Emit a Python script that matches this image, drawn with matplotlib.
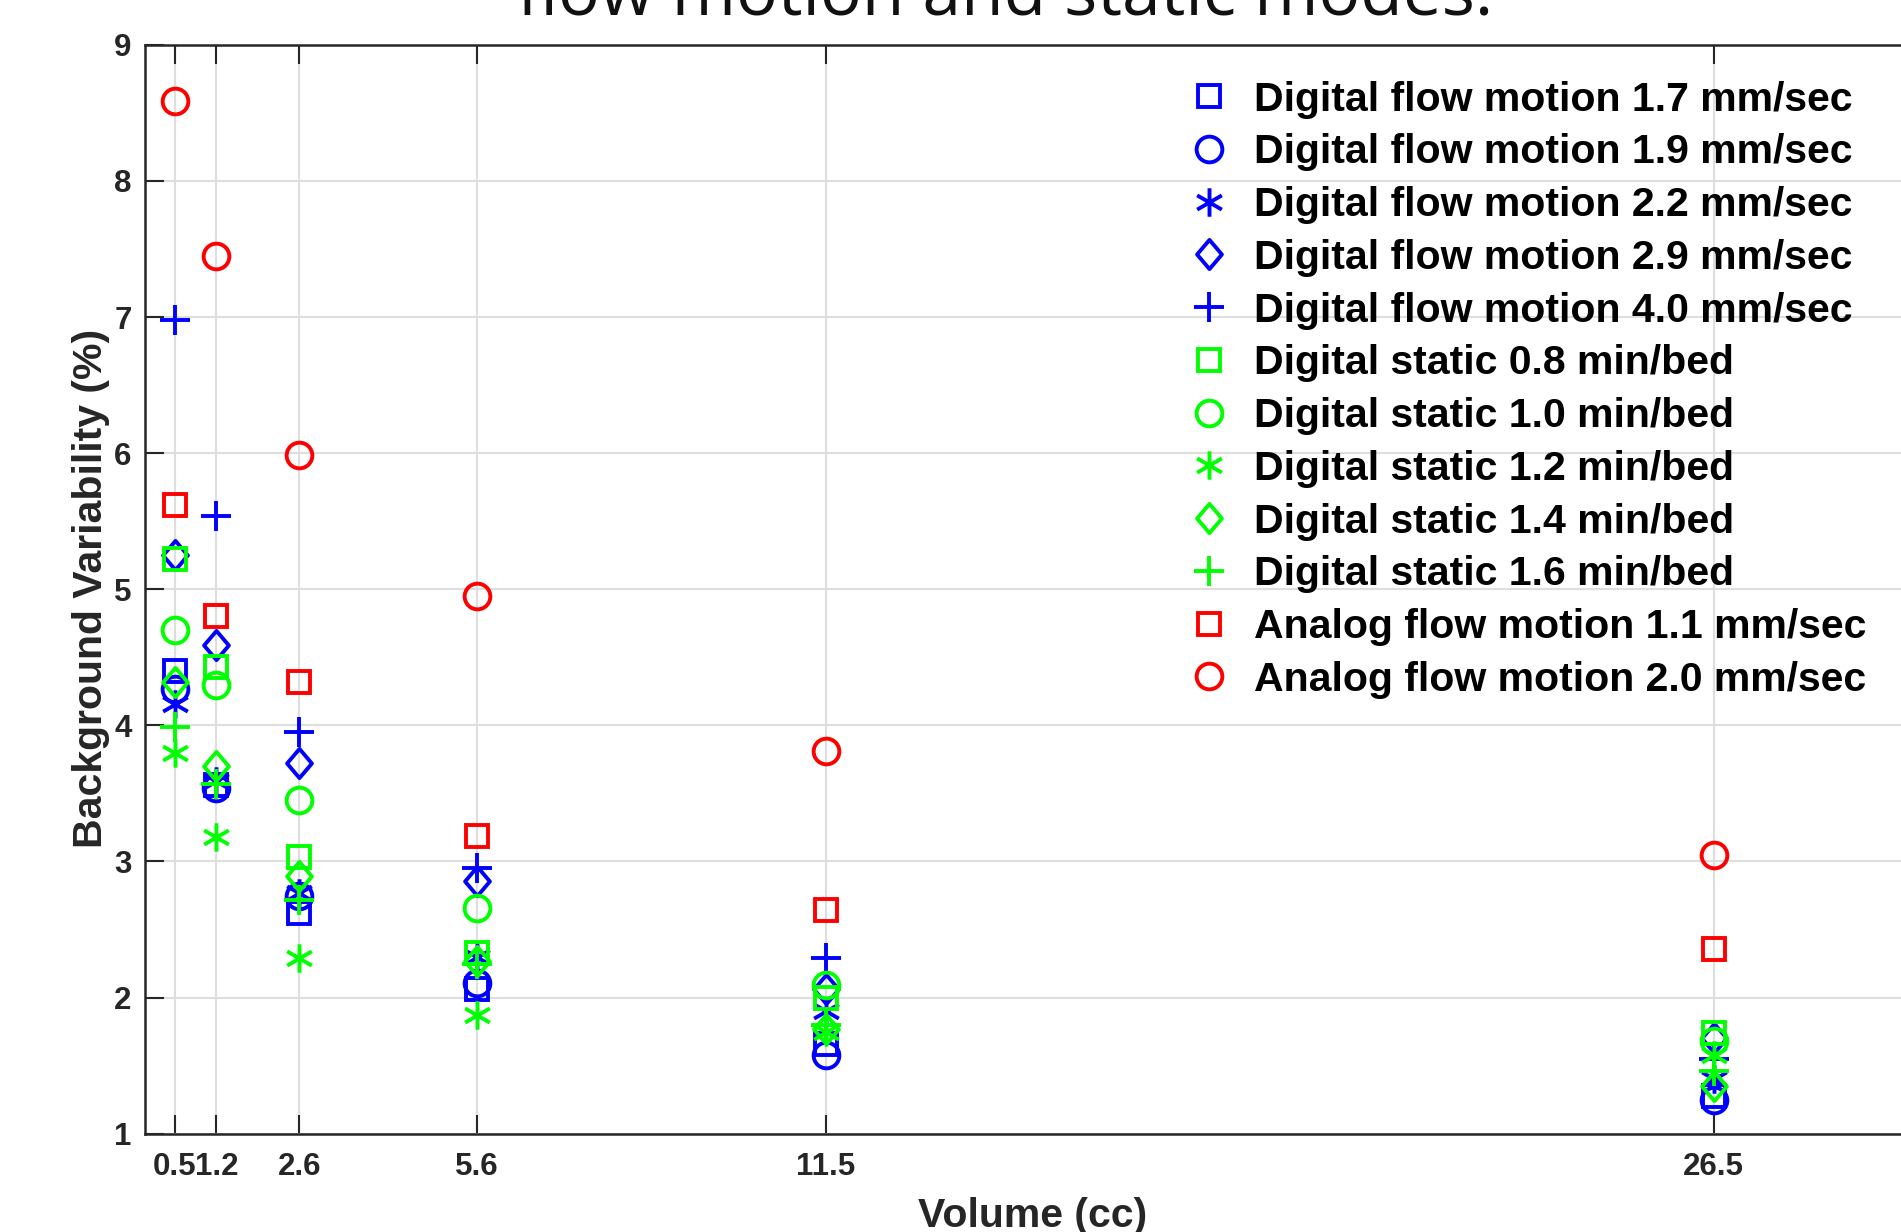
import numpy as np
import matplotlib
matplotlib.use("Agg")
import matplotlib.pyplot as plt
from matplotlib.path import Path

# volumes (cc)
volumes = [0.5, 1.2, 2.6, 5.6, 11.5, 26.5]
tick_labels = ["0.5", "1.2", "2.6", "5.6", "11.5", "26.5"]

# background variability (%) per acquisition
dfm_17 = [4.40, 3.56, 2.62, 2.06, 1.66, 1.28]
dfm_19 = [4.27, 3.54, 2.75, 2.11, 1.58, 1.25]
dfm_22 = [4.16, 3.59, 2.77, 2.30, 1.90, 1.40]
dfm_29 = [5.25, 4.59, 3.72, 2.86, 2.06, 1.70]
dfm_40 = [6.98, 5.54, 3.95, 2.95, 2.29, 1.55]
ds_08 = [5.22, 4.43, 3.03, 2.33, 2.00, 1.74]
ds_10 = [4.70, 4.30, 3.45, 2.66, 2.09, 1.68]
ds_12 = [3.80, 3.18, 2.29, 1.87, 1.75, 1.58]
ds_14 = [4.32, 3.70, 2.89, 2.27, 1.77, 1.35]
ds_16 = [3.99, 3.57, 2.72, 2.25, 1.80, 1.46]
afm_11 = [5.62, 4.80, 4.32, 3.19, 2.64, 2.36]
afm_20 = [8.59, 7.45, 5.99, 4.95, 3.81, 3.05]

labels = [
    "Digital flow motion 1.7 mm/sec",
    "Digital flow motion 1.9 mm/sec",
    "Digital flow motion 2.2 mm/sec",
    "Digital flow motion 2.9 mm/sec",
    "Digital flow motion 4.0 mm/sec",
    "Digital static 0.8 min/bed",
    "Digital static 1.0 min/bed",
    "Digital static 1.2 min/bed",
    "Digital static 1.4 min/bed",
    "Digital static 1.6 min/bed",
    "Analog flow motion 1.1 mm/sec",
    "Analog flow motion 2.0 mm/sec",
]
series = [dfm_17, dfm_19, dfm_22, dfm_29, dfm_40,
          ds_08, ds_10, ds_12, ds_14, ds_16, afm_11, afm_20]

# matlab-like marker shapes
c30, s30 = np.cos(np.pi / 6), np.sin(np.pi / 6)
asterisk = Path([(0, 1), (0, -1), (c30, s30), (-c30, -s30), (c30, -s30), (-c30, s30)],
                [Path.MOVETO, Path.LINETO, Path.MOVETO, Path.LINETO, Path.MOVETO, Path.LINETO])
diamond = Path([(0, 1), (0.85, 0), (0, -1), (-0.85, 0), (0, 1)],
               [Path.MOVETO, Path.LINETO, Path.LINETO, Path.LINETO, Path.CLOSEPOLY])
shapes = [("s", 16), ("o", 18.5), (asterisk, 20.5), (diamond, 21), ("+", 21)]

colors = ["#0000ff"] * 5 + ["#00ff00"] * 5 + ["#ff0000"] * 2
markers = shapes + shapes + shapes[:2]

plt.rcParams["font.family"] = ["Liberation Sans", "DejaVu Sans"]
plt.rcParams["font.weight"] = "bold"

fig = plt.figure(figsize=(19.01, 12.32), dpi=100)
ax = fig.add_axes([0.0765, 0.0798, 0.934, 0.8838])

for vals, lab, col, (mk, ms) in zip(series, labels, colors, markers):
    ax.plot(volumes, vals, linestyle="none", marker=mk, markersize=ms,
            markerfacecolor="none", markeredgecolor=col, markeredgewidth=2.8,
            label=lab)

ax.set_xlim(0, 30)
ax.set_ylim(1, 9)
ax.set_xticks(volumes)
ax.set_xticklabels(tick_labels)
ax.set_yticks(range(1, 10))

ax.grid(True, color="#dedede", linewidth=1.5)
ax.set_axisbelow(True)
for sp in ax.spines.values():
    sp.set_linewidth(1.8)
    sp.set_color("#262626")
ax.tick_params(direction="in", length=13.5, width=1.5, color="#262626",
               labelsize=22.5, labelcolor="#262626", top=True, right=True, pad=10)
ax.tick_params(axis="x", pad=13.5)
for t in ax.get_xticklabels() + ax.get_yticklabels():
    t.set_fontweight("bold")

fig.text(0.5434, 0.0126, "Volume (cc)", ha="center", va="center",
         fontsize=29.5, fontweight="bold", color="#262626")
fig.text(0.0479, 0.522, "Background Variability (%)", ha="center", va="center",
         rotation=90, fontsize=29.5, fontweight="bold", color="#262626")

# title, only its lower line shows at the top edge
fig.text(0.5287, 0.9878, "flow motion and static modes.", ha="center", va="baseline",
         fontsize=50, fontweight="normal", family=["Open Sans", "DejaVu Sans"],
         color="#111111")

leg = ax.legend(loc="upper left", bbox_to_anchor=(0.625, 0.9346),
                bbox_transform=fig.transFigure, frameon=False, numpoints=1,
                handlelength=1.0, handletextpad=0.6, labelspacing=0.36,
                borderpad=0, borderaxespad=0,
                prop={"size": 29.5, "weight": "bold"})

fig.savefig("out.png", dpi=100)
